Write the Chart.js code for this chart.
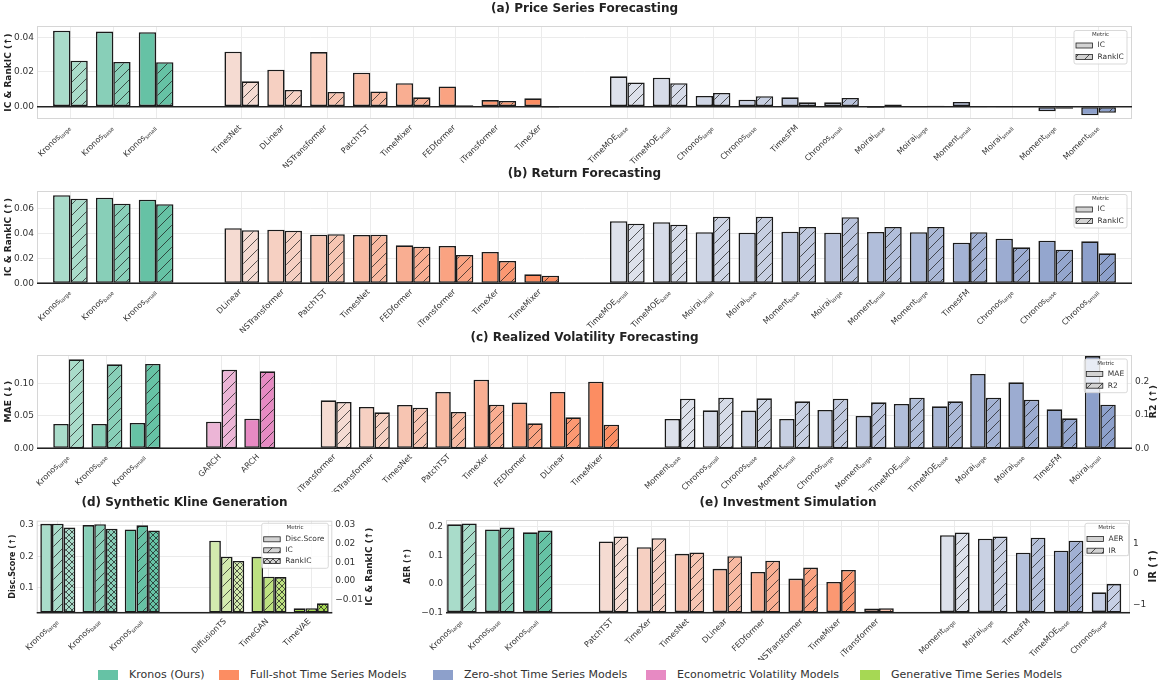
<!DOCTYPE html>
<html>
<head>
<meta charset="utf-8">
<title>Kronos benchmark bars</title>
<script src="https://cdn.jsdelivr.net/npm/chart.js@4.4.1/dist/chart.umd.min.js"></script>
<style>
  body { margin: 0; background: #fff; }
  #page { position: relative; width: 1163px; height: 689px; overflow: hidden; font-family: "DejaVu Sans", sans-serif; }
  #page canvas { position: absolute; }
  .key { position: absolute; top: 668px; display: flex; align-items: center; font-size: 11px; color: #333; white-space: nowrap; }
  .key .sw { display: inline-block; width: 20px; height: 10px; margin-right: 11px; }
</style>
</head>
<body>
<div id="page">
  <div class="key" style="left:98px"><span class="sw" style="background:#66c2a5"></span>Kronos (Ours)</div>
  <div class="key" style="left:219px"><span class="sw" style="background:#fc8d62"></span>Full-shot Time Series Models</div>
  <div class="key" style="left:433px"><span class="sw" style="background:#8da0cb"></span>Zero-shot Time Series Models</div>
  <div class="key" style="left:646px"><span class="sw" style="background:#e78ac3"></span>Econometric Volatility Models</div>
  <div class="key" style="left:860px"><span class="sw" style="background:#a6d854"></span>Generative Time Series Models</div>
</div>
<script>
// --- DATA ---
const kronosNames = ['Kronos_large', 'Kronos_base', 'Kronos_small'];

// (a) price series forecasting
const priceFull = ['TimesNet', 'DLinear', 'NSTransformer', 'PatchTST', 'TimeMixer', 'FEDformer', 'iTransformer', 'TimeXer'];
const priceZero = ['TimeMOE_base', 'TimeMOE_small', 'Chronos_large', 'Chronos_base', 'TimesFM', 'Chronos_small',
                   'Moirai_base', 'Moirai_large', 'Moment_small', 'Moirai_small', 'Moment_large', 'Moment_base'];
const priceIC = [0.0438, 0.0433, 0.0429,
                 0.0317, 0.0213, 0.0315, 0.0196, 0.0135, 0.0117, 0.0038, 0.0048,
                 0.0175, 0.0167, 0.0062, 0.0040, 0.0054, 0.0025, -0.0008, -0.0002, 0.0027, -0.0004, -0.0027, -0.0050];
const priceRankIC = [0.0265, 0.0258, 0.0256,
                     0.0146, 0.0096, 0.0085, 0.0088, 0.0054, 0.0008, 0.0033, -0.0006,
                     0.0140, 0.0135, 0.0079, 0.0060, 0.0025, 0.0050, 0.0013, 0.0006, -0.0002, -0.0002, -0.0012, -0.0035];
const priceTicks = [0, 0.02, 0.04];
const priceTickLabels = ['0.00', '0.02', '0.04'];

// (b) return forecasting
const retFull = ['DLinear', 'NSTransformer', 'PatchTST', 'TimesNet', 'FEDformer', 'iTransformer', 'TimeXer', 'TimeMixer'];
const retZero = ['TimeMOE_small', 'TimeMOE_base', 'Moirai_small', 'Moirai_base', 'Moment_base', 'Moirai_large',
                 'Moment_small', 'Moment_large', 'TimesFM', 'Chronos_large', 'Chronos_base', 'Chronos_small'];
const retIC = [0.0704, 0.0685, 0.0669,
               0.0440, 0.0429, 0.0389, 0.0387, 0.0304, 0.0299, 0.0251, 0.0072,
               0.0496, 0.0488, 0.0408, 0.0405, 0.0413, 0.0405, 0.0411, 0.0408, 0.0325, 0.0357, 0.0341, 0.0336];
const retRankIC = [0.0677, 0.0637, 0.0632,
                   0.0424, 0.0421, 0.0392, 0.0389, 0.0293, 0.0227, 0.0179, 0.0061,
                   0.0477, 0.0469, 0.0533, 0.0533, 0.0451, 0.0528, 0.0451, 0.0451, 0.0408, 0.0288, 0.0269, 0.0240];
const retTicks = [0, 0.02, 0.04, 0.06];
const retTickLabels = ['0.00', '0.02', '0.04', '0.06'];

// (c) realized volatility forecasting
const volEcon = ['GARCH', 'ARCH'];
const volFull = ['iTransformer', 'NSTransformer', 'TimesNet', 'PatchTST', 'TimeXer', 'FEDformer', 'DLinear', 'TimeMixer'];
const volZero = ['Moment_base', 'Chronos_small', 'Chronos_base', 'Moment_small', 'Chronos_large', 'Moment_large',
                 'TimeMOE_small', 'TimeMOE_base', 'Moirai_large', 'Moirai_base', 'TimesFM', 'Moirai_small'];
const volMAE = [0.0374, 0.0374, 0.0390,
                0.0410, 0.0456,
                0.0738, 0.0636, 0.0667, 0.0867, 0.1056, 0.0703, 0.0867, 0.1026,
                0.0451, 0.0585, 0.0580, 0.0451, 0.0590, 0.0497, 0.0682, 0.0646, 0.1144, 0.1015, 0.0600, 0.1420];
const volR2 = [0.267, 0.252, 0.253,
               0.236, 0.231,
               0.139, 0.108, 0.122, 0.109, 0.131, 0.075, 0.093, 0.071,
               0.149, 0.152, 0.150, 0.141, 0.149, 0.138, 0.152, 0.141, 0.152, 0.146, 0.090, 0.131];
const volMaeTicks = [0, 0.05, 0.10];
const volMaeTickLabels = ['0.00', '0.05', '0.10'];
const volR2Ticks = [0, 0.1, 0.2];
const volR2TickLabels = ['0.0', '0.1', '0.2'];

// (d) synthetic kline generation
const genModels = ['DiffusionTS', 'TimeGAN', 'TimeVAE'];
const genDisc = [0.304, 0.300, 0.286, 0.250, 0.198, 0.033];
const genIC = [0.0307, 0.0304, 0.0298, 0.0130, 0.0023, -0.0146];
const genRankIC = [0.0286, 0.0280, 0.0271, 0.0107, 0.0021, -0.0120];
const genDiscTicks = [0.1, 0.2, 0.3];
const genDiscTickLabels = ['0.1', '0.2', '0.3'];
const genICTicks = [-0.01, 0, 0.01, 0.02, 0.03];
const genICTickLabels = ['\u22120.01', '0.00', '0.01', '0.02', '0.03'];

// (e) investment simulation
const invFull = ['PatchTST', 'TimeXer', 'TimesNet', 'DLinear', 'FEDformer', 'NSTransformer', 'TimeMixer', 'iTransformer'];
const invZero = ['Moment_large', 'Moirai_large', 'TimesFM', 'TimeMOE_base', 'Chronos_large'];
const invAER = [0.208, 0.190, 0.180,
                0.148, 0.128, 0.105, 0.053, 0.042, 0.019, 0.007, -0.085,
                0.170, 0.158, 0.109, 0.116, -0.029];
const invIR = [1.64, 1.51, 1.41,
               1.22, 1.16, 0.70, 0.58, 0.43, 0.21, 0.13, -1.11,
               1.35, 1.22, 1.18, 1.08, -0.32];
const invAERTicks = [-0.1, 0, 0.1, 0.2];
const invAERTickLabels = ['\u22120.1', '0.0', '0.1', '0.2'];
const invIRTicks = [-1, 0, 1];
const invIRTickLabels = ['\u22121', '0', '1'];

// --- STYLE HELPERS ---
Chart.defaults.font.family = '"DejaVu Sans", sans-serif';

const ramps = {
  kronos: ['#a9dcca', '#66c2a5'],
  full:   ['#f5dbd2', '#fc8d62'],
  zero:   ['#dde1eb', '#8da0cb'],
  econ:   ['#ecb5d6', '#e78ac3'],
  gen:    ['#d3eaae', '#a6d854']
};

function hexRgb(h) {
  const n = parseInt(h.slice(1), 16);
  return [n >> 16, (n >> 8) & 255, n & 255];
}

// light -> full colour along a group
function shade(group, i, n, alpha) {
  const [a, b] = ramps[group].map(hexRgb);
  const t = n > 1 ? i / (n - 1) : 1;
  const c = a.map((v, k) => Math.round(v + (b[k] - v) * t));
  return `rgba(${c[0]},${c[1]},${c[2]},${alpha})`;
}

const patternCache = {};
function hatch(color, kind) {
  const key = color + kind;
  if (patternCache[key]) return patternCache[key];
  const s = kind === 'x' ? 6 : 11;
  const c = document.createElement('canvas');
  c.width = s; c.height = s;
  const g = c.getContext('2d');
  g.fillStyle = color;
  g.fillRect(0, 0, s, s);
  g.strokeStyle = 'rgba(25,25,25,0.9)';
  g.lineWidth = 0.8;
  g.beginPath();
  for (const o of [-s, 0, s]) { g.moveTo(o, s); g.lineTo(o + s, 0); }
  if (kind === 'x') for (const o of [-s, 0, s]) { g.moveTo(o, 0); g.lineTo(o + s, s); }
  g.stroke();
  patternCache[key] = g.createPattern(c, 'repeat');
  return patternCache[key];
}

// rotated tick label, "Name_sub" gets a subscript
function drawTickLabel(ctx, text, x, y, size) {
  const [main, sub] = text.split('_');
  const mainFont = `${size}px "DejaVu Sans"`;
  const subFont = `${size * 0.68}px "DejaVu Sans"`;
  ctx.save();
  ctx.translate(x, y);
  ctx.rotate(-Math.PI / 4);
  ctx.font = mainFont;
  const mw = ctx.measureText(main).width;
  let sw = 0;
  if (sub) { ctx.font = subFont; sw = ctx.measureText(sub).width; }
  const start = -(mw + sw);
  ctx.fillStyle = '#333';
  ctx.textAlign = 'left';
  ctx.textBaseline = 'middle';
  ctx.font = mainFont;
  ctx.fillText(main, start, 0);
  if (sub) { ctx.font = subFont; ctx.fillText(sub, start + mw, size * 0.3); }
  ctx.restore();
}

function drawMetricBox(ctx, area, lg) {
  const x = area.right - lg.right - lg.w;
  const y = area.top + lg.top;
  ctx.save();
  ctx.fillStyle = 'rgba(255,255,255,0.8)';
  ctx.strokeStyle = '#cfcfcf';
  ctx.lineWidth = 0.8;
  ctx.beginPath();
  if (ctx.roundRect) ctx.roundRect(x, y, lg.w, lg.h, 2); else ctx.rect(x, y, lg.w, lg.h);
  ctx.fill();
  ctx.stroke();
  ctx.fillStyle = '#333';
  ctx.font = '5.5px "DejaVu Sans"';
  ctx.textAlign = 'center';
  ctx.textBaseline = 'middle';
  ctx.fillText('Metric', x + lg.w / 2, y + 4.5);
  ctx.font = '7.5px "DejaVu Sans"';
  ctx.textAlign = 'left';
  lg.items.forEach(([label, kind], i) => {
    const ry = y + lg.rows[i];
    ctx.fillStyle = kind ? hatch('#d3d3d3', kind) : '#d3d3d3';
    ctx.fillRect(x + 2, ry - 2.5, 16.5, 5);
    ctx.strokeStyle = '#222';
    ctx.lineWidth = 0.8;
    ctx.strokeRect(x + 2, ry - 2.5, 16.5, 5);
    ctx.fillStyle = '#333';
    ctx.fillText(label, x + 23.5, ry);
  });
  ctx.restore();
}

function drawVerticalTitle(ctx, [text, , size], x, y) {
  ctx.save();
  ctx.translate(x, y);
  ctx.rotate(-Math.PI / 2);
  ctx.font = `bold ${size}px "DejaVu Sans"`;
  ctx.fillStyle = '#222';
  ctx.textAlign = 'center';
  ctx.textBaseline = 'middle';
  ctx.fillText(text, 0, 0);
  ctx.restore();
}

function panelPlugin(p, names, xs) {
  return {
    id: 'panel_' + p.id,
    beforeDatasetsDraw(chart) {
      const { ctx, chartArea: a } = chart;
      ctx.save();
      ctx.strokeStyle = '#d6d6d6';
      ctx.lineWidth = 1;
      ctx.strokeRect(a.left + 0.5, a.top + 0.5, a.right - a.left - 1, a.bottom - a.top - 1);
      ctx.restore();
    },
    afterDatasetsDraw(chart) {
      const { ctx, chartArea: a, scales } = chart;
      const y = p.baseline === 'zero' ? scales.y.getPixelForValue(0) : a.bottom;
      ctx.save();
      ctx.strokeStyle = '#222';
      ctx.lineWidth = 1.5;
      ctx.beginPath();
      ctx.moveTo(a.left, y);
      ctx.lineTo(a.right, y);
      ctx.stroke();
      ctx.restore();
      drawMetricBox(ctx, a, p.legend);
    },
    afterDraw(chart) {
      const { ctx, chartArea: a, scales } = chart;
      ctx.save();
      ctx.font = 'bold 12px "DejaVu Sans"';
      ctx.fillStyle = '#222';
      ctx.textAlign = 'center';
      ctx.textBaseline = 'middle';
      ctx.fillText(p.title, (a.left + a.right) / 2, a.top - 17.5);
      ctx.restore();
      const midY = (a.top + a.bottom) / 2;
      drawVerticalTitle(ctx, p.leftTitle, p.leftTitle[1] - p.left, midY);
      if (p.rightTitle) drawVerticalTitle(ctx, p.rightTitle, p.rightTitle[1] - p.left, midY);
      names.forEach((n, i) => {
        const px = scales.x.getPixelForValue(xs[i]);
        drawTickLabel(ctx, n, px - 1.5, a.bottom + 7.5, 8);
      });
    }
  };
}

// axis box width is fixed so the plot area lands where the reference has it
function valueAxis(cfg, position, width) {
  return {
    type: 'linear',
    position,
    min: cfg.min,
    max: cfg.max,
    grid: { display: position === 'left', color: '#ebebeb', drawTicks: false },
    border: { display: false },
    ticks: { color: '#333', font: { size: 9 }, padding: 3, callback: (v, i) => cfg.labels[i] },
    afterBuildTicks: s => { s.ticks = cfg.ticks.map(value => ({ value })); },
    afterFit: s => { s.width = width; }
  };
}

function buildPanel(p) {
  const names = [], xs = [], slots = [];
  let slot = 0;
  p.groups.forEach(([list, group]) => {
    list.forEach((n, i) => {
      names.push(n);
      xs.push(slot);
      slots.push({ group, i, n: list.length });
      slot++;
    });
    slot++; // empty slot between model families
  });

  const lead = p.series[0].values;
  const datasets = p.series.map(s => {
    const colors = slots.map((f, k) => {
      const alpha = p.fadeNegative && lead[k] < 0 ? 0.5 : 1;
      const c = shade(f.group, f.i, f.n, alpha);
      return s.hatch ? hatch(c, s.hatch) : c;
    });
    const ds = {
      label: s.label,
      data: xs.map((x, k) => ({ x, y: s.values[k] })),
      yAxisID: s.axis,
      backgroundColor: colors,
      borderColor: '#1a1a1a',
      borderWidth: 1.6,
      borderSkipped: false,
      categoryPercentage: p.barFrac,
      barPercentage: 1,
      clip: 0
    };
    if (p.baseFromBottom) ds.base = p[s.axis].min;
    return ds;
  });

  const cv = document.createElement('canvas');
  cv.width = p.width;
  cv.height = p.height;
  cv.style.left = p.left + 'px';
  cv.style.top = p.top + 'px';
  document.getElementById('page').appendChild(cv);

  const leftW = p.area.left - p.left;
  const rightW = p.left + p.width - p.area.right;
  const scales = {
    x: {
      type: 'linear', min: p.xRange[0], max: p.xRange[1], offset: false,
      grid: { color: '#ebebeb', drawTicks: false, offset: false },
      border: { display: false },
      ticks: { display: false },
      afterBuildTicks: s => { s.ticks = xs.map(value => ({ value })); },
      afterFit: s => { s.height = 0; }
    },
    y: valueAxis(p.y, 'left', leftW)
  };
  if (p.y2) scales.y2 = valueAxis(p.y2, 'right', rightW);

  new Chart(cv, {
    type: 'bar',
    data: { datasets },
    options: {
      responsive: false,
      animation: false,
      layout: {
        padding: {
          left: 0,
          top: p.area.top - p.top,
          right: p.y2 ? 0 : rightW,
          bottom: p.top + p.height - p.area.bottom
        }
      },
      plugins: { legend: { display: false }, tooltip: { enabled: false } },
      scales
    },
    plugins: [panelPlugin(p, names, xs)]
  });
}

const panels = [
  {
    id: 'a', left: 0, top: 0, width: 1163, height: 168,
    area: { left: 37, top: 26, right: 1132, bottom: 119 },
    groups: [[kronosNames, 'kronos'], [priceFull, 'full'], [priceZero, 'zero']],
    series: [{ label: 'IC', values: priceIC, axis: 'y' },
             { label: 'RankIC', values: priceRankIC, axis: 'y', hatch: '/' }],
    xRange: [-0.78, 24.78], barFrac: 0.81,
    y: { min: -0.0071, max: 0.0465, ticks: priceTicks, labels: priceTickLabels },
    baseline: 'zero',
    title: '(a) Price Series Forecasting',
    leftTitle: ['IC & RankIC (\u2191)', 8.5, 9],
    legend: { right: 5, top: 4.5, w: 53, h: 33.5, rows: [15, 26.5], items: [['IC', null], ['RankIC', '/']] }
  },
  {
    id: 'b', left: 0, top: 166, width: 1163, height: 167,
    area: { left: 37, top: 191, right: 1132, bottom: 283.3 },
    groups: [[kronosNames, 'kronos'], [retFull, 'full'], [retZero, 'zero']],
    series: [{ label: 'IC', values: retIC, axis: 'y' },
             { label: 'RankIC', values: retRankIC, axis: 'y', hatch: '/' }],
    xRange: [-0.78, 24.78], barFrac: 0.81,
    y: { min: 0, max: 0.0738, ticks: retTicks, labels: retTickLabels },
    baseline: 'zero',
    title: '(b) Return Forecasting',
    leftTitle: ['IC & RankIC (\u2191)', 8.5, 9],
    legend: { right: 5, top: 3.5, w: 53, h: 33.5, rows: [15, 26.5], items: [['IC', null], ['RankIC', '/']] }
  },
  {
    id: 'c', left: 0, top: 331, width: 1163, height: 161,
    area: { left: 37, top: 355, right: 1132, bottom: 448.3 },
    groups: [[kronosNames, 'kronos'], [volEcon, 'econ'], [volFull, 'full'], [volZero, 'zero']],
    series: [{ label: 'MAE', values: volMAE, axis: 'y' },
             { label: 'R2', values: volR2, axis: 'y2', hatch: '/' }],
    xRange: [-0.83, 27.83], barFrac: 0.81,
    y: { min: 0, max: 0.1436, ticks: volMaeTicks, labels: volMaeTickLabels },
    y2: { min: 0, max: 0.28, ticks: volR2Ticks, labels: volR2TickLabels },
    baseline: 'zero',
    title: '(c) Realized Volatility Forecasting',
    leftTitle: ['MAE (\u2193)', 8.5, 9.2],
    rightTitle: ['R2 (\u2191)', 1154, 9.3],
    legend: { right: 4.7, top: 4, w: 43, h: 33.7, rows: [15, 26.7], items: [['MAE', null], ['R2', '/']] }
  },
  {
    id: 'd', left: 0, top: 490, width: 400, height: 170,
    area: { left: 36.7, top: 520.7, right: 332.3, bottom: 612.7 },
    groups: [[kronosNames, 'kronos'], [genModels, 'gen']],
    series: [{ label: 'Disc.Score', values: genDisc, axis: 'y' },
             { label: 'IC', values: genIC, axis: 'y2', hatch: '/' },
             { label: 'RankIC', values: genRankIC, axis: 'y2', hatch: 'x' }],
    xRange: [-0.5, 6.5], barFrac: 0.83,
    y: { min: 0.019, max: 0.314, ticks: genDiscTicks, labels: genDiscTickLabels },
    y2: { min: -0.017, max: 0.0323, ticks: genICTicks, labels: genICTickLabels },
    baseFromBottom: true,
    baseline: 'bottom',
    title: '(d) Synthetic Kline Generation',
    leftTitle: ['Disc.Score (\u2191)', 12.5, 8],
    rightTitle: ['IC & RankIC (\u2191)', 370, 9],
    legend: { right: 4, top: 2.6, w: 66.6, h: 45, rows: [16, 27, 37.7],
              items: [['Disc.Score', null], ['IC', '/'], ['RankIC', 'x']] }
  },
  {
    id: 'e', left: 395, top: 490, width: 768, height: 170,
    area: { left: 446, top: 520, right: 1130, bottom: 612.7 },
    groups: [[kronosNames, 'kronos'], [invFull, 'full'], [invZero, 'zero']],
    series: [{ label: 'AER', values: invAER, axis: 'y' },
             { label: 'IR', values: invIR, axis: 'y2', hatch: '/' }],
    xRange: [-0.42, 17.62], barFrac: 0.78,
    y: { min: -0.1, max: 0.223, ticks: invAERTicks, labels: invAERTickLabels },
    y2: { min: -1.256, max: 1.753, ticks: invIRTicks, labels: invIRTickLabels },
    baseFromBottom: true,
    fadeNegative: true,
    baseline: 'bottom',
    title: '(e) Investment Simulation',
    leftTitle: ['AER (\u2191)', 408, 8],
    rightTitle: ['IR (\u2191)', 1153, 10],
    legend: { right: 1.5, top: 3.3, w: 43.5, h: 32.4, rows: [15.7, 27.4], items: [['AER', null], ['IR', '/']] }
  }
];

panels.forEach(buildPanel);
</script>
</body>
</html>
